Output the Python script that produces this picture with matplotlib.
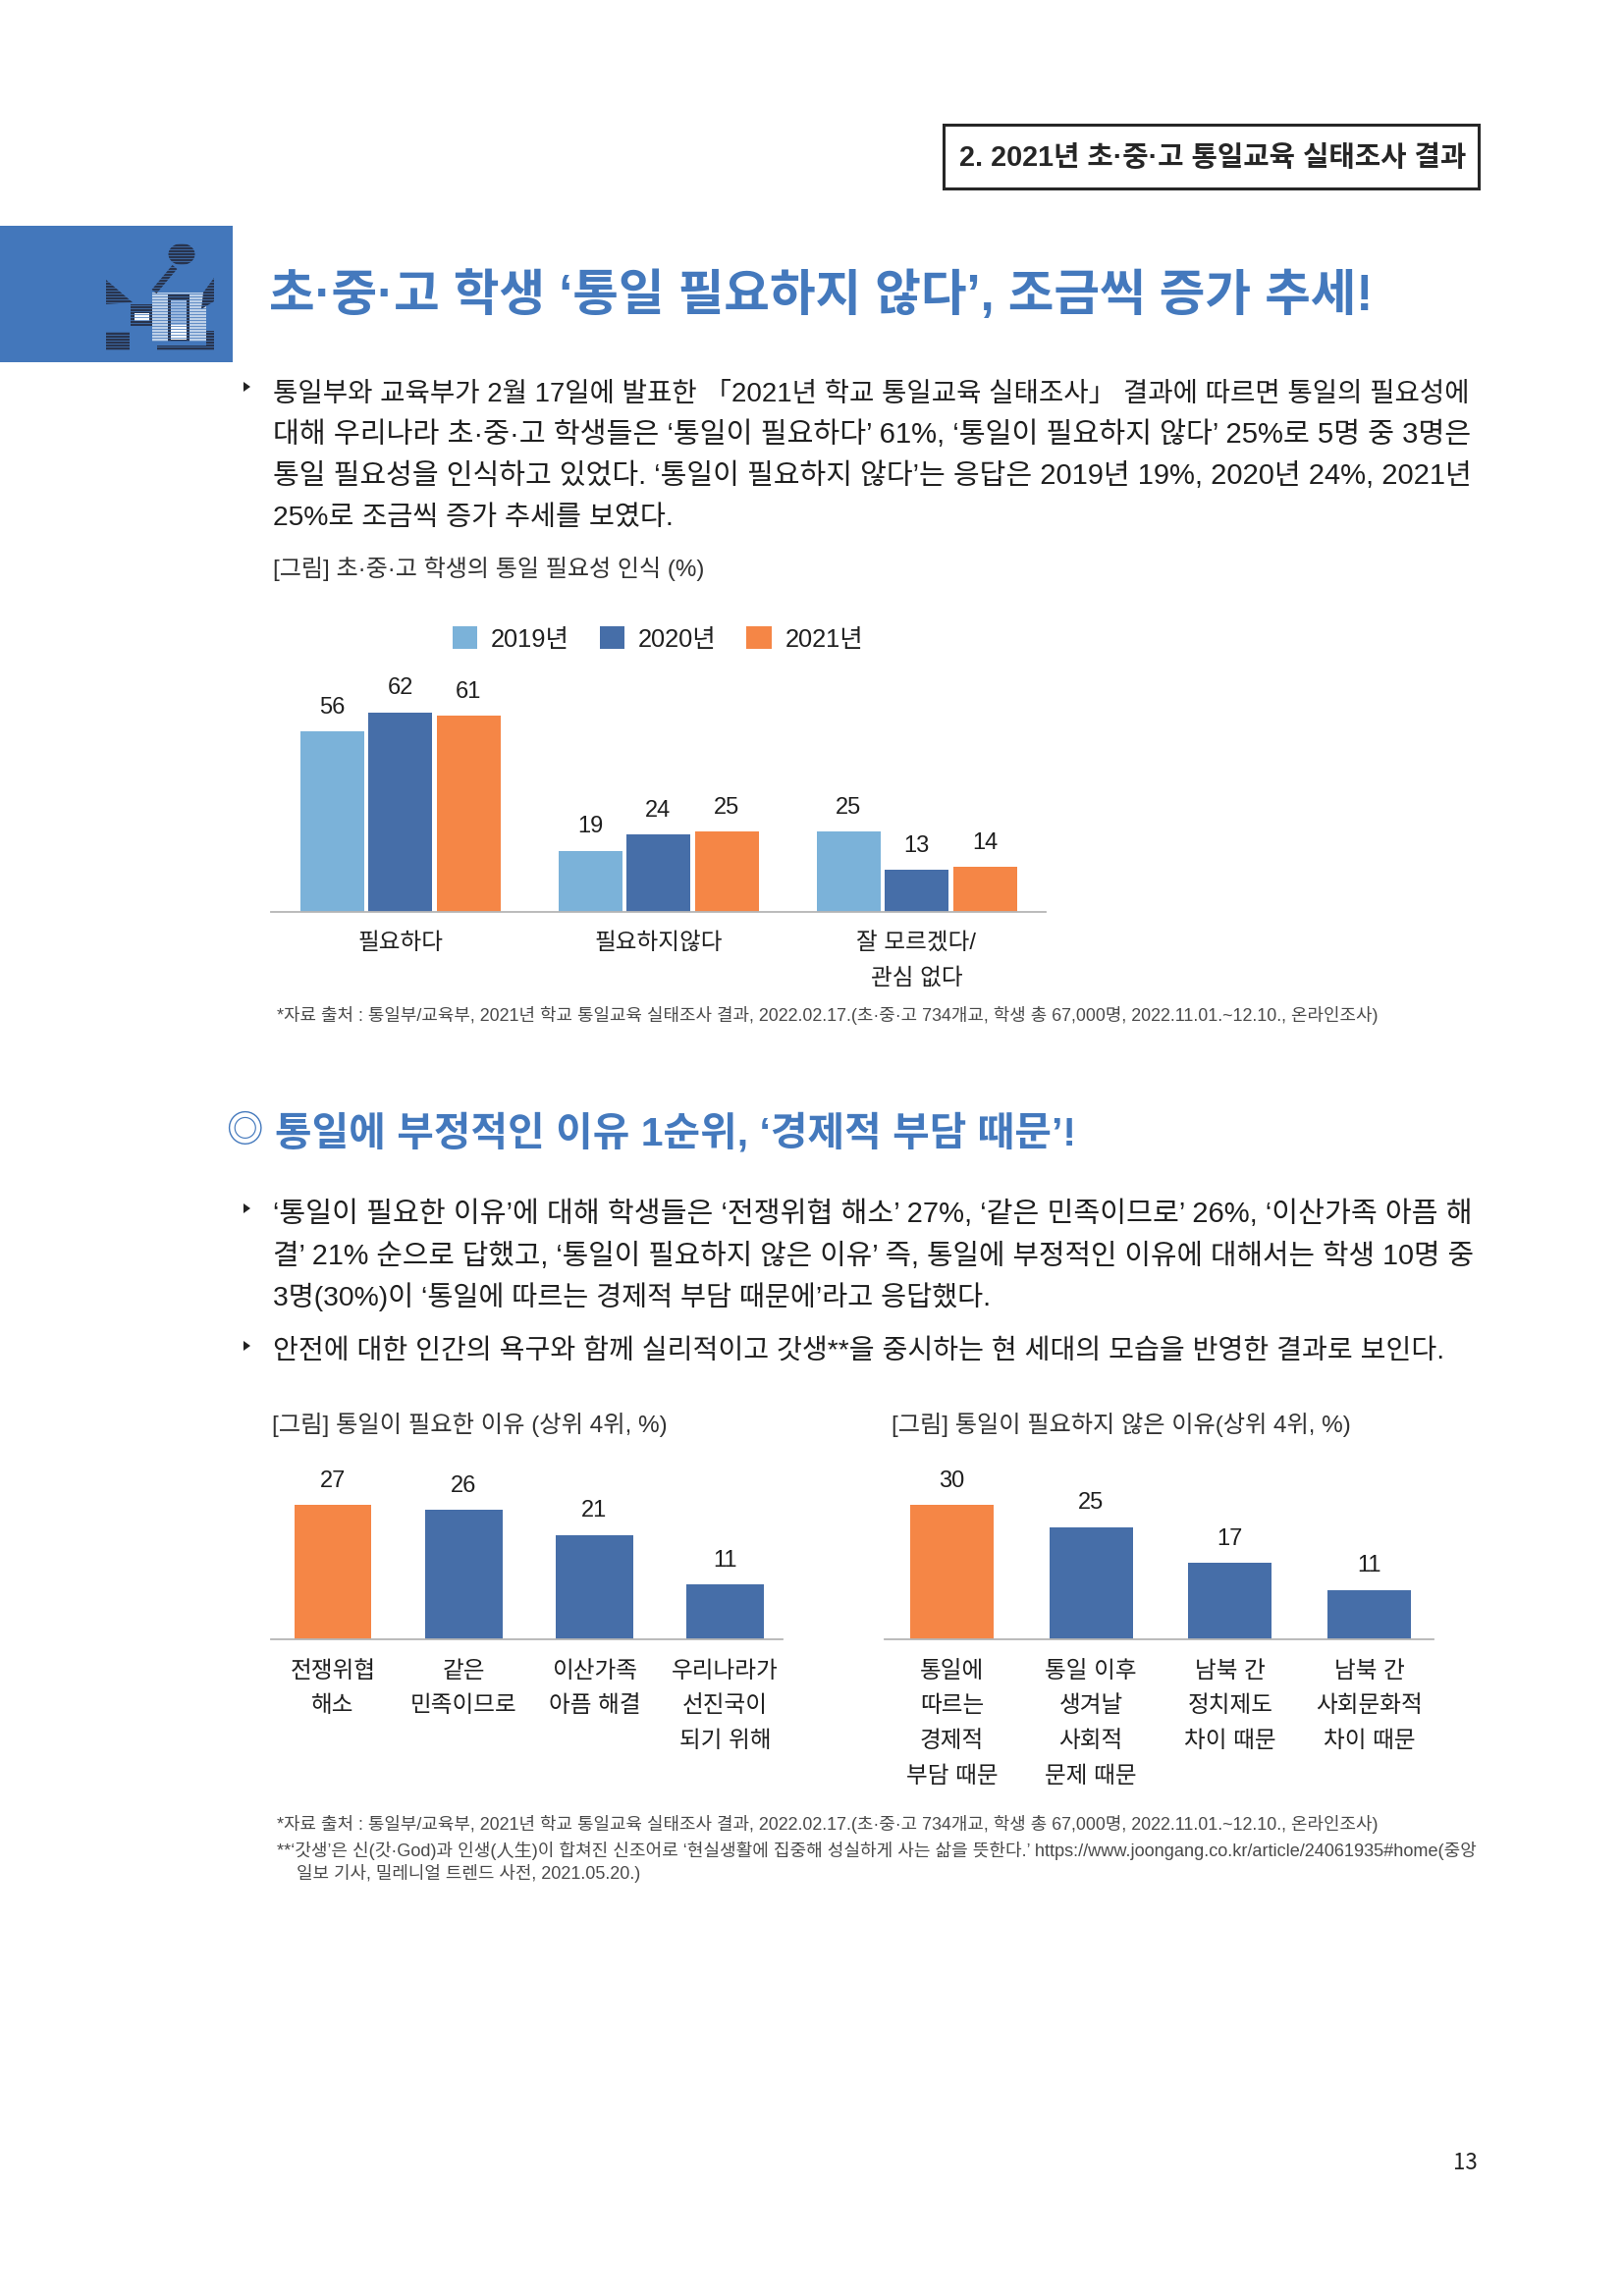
# -*- coding: utf-8 -*-
import matplotlib
matplotlib.use('Agg')
import matplotlib.pyplot as plt
from matplotlib.patches import Rectangle, Polygon, Ellipse
import numpy as np

W, H = 1653, 2339

# colours
LIGHT = '#7bb2d9'
BLUE = '#466ea8'
ORANGE = '#f58646'
TITLE = '#4479bd'
AXIS = '#b5b5b5'
TEXT = '#1f1f1f'
NOTE = '#4a4a4a'

# chart 1
years = ['2019년', '2020년', '2021년']
cats1 = ['필요하다', '필요하지않다', '잘 모르겠다/\n관심 없다']
v2019 = [56, 19, 25]
v2020 = [62, 24, 13]
v2021 = [61, 25, 14]

# chart 2
cats2 = ['전쟁위협\n해소', '같은\n민족이므로', '이산가족\n아픔 해결', '우리나라가\n선진국이\n되기 위해']
vals2 = [27, 26, 21, 11]

# chart 3
cats3 = ['통일에\n따르는\n경제적\n부담 때문', '통일 이후\n생겨날\n사회적\n문제 때문', '남북 간\n정치제도\n차이 때문', '남북 간\n사회문화적\n차이 때문']
vals3 = [30, 25, 17, 11]

header = '2. 2021년 초·중·고 통일교육 실태조사 결과'
title = '초·중·고 학생 ‘통일 필요하지 않다’, 조금씩 증가 추세!'
section = '통일에 부정적인 이유 1순위, ‘경제적 부담 때문’!'
body1 = ['통일부와 교육부가 2월 17일에 발표한 「2021년 학교 통일교육 실태조사」 결과에 따르면 통일의 필요성에',
         '대해 우리나라 초·중·고 학생들은 ‘통일이 필요하다’ 61%, ‘통일이 필요하지 않다’ 25%로 5명 중 3명은',
         '통일 필요성을 인식하고 있었다. ‘통일이 필요하지 않다’는 응답은 2019년 19%, 2020년 24%, 2021년',
         '25%로 조금씩 증가 추세를 보였다.']
body2 = ['‘통일이 필요한 이유’에 대해 학생들은 ‘전쟁위협 해소’ 27%, ‘같은 민족이므로’ 26%, ‘이산가족 아픔 해',
         '결’ 21% 순으로 답했고, ‘통일이 필요하지 않은 이유’ 즉, 통일에 부정적인 이유에 대해서는 학생 10명 중',
         '3명(30%)이 ‘통일에 따르는 경제적 부담 때문에’라고 응답했다.',
         '안전에 대한 인간의 욕구와 함께 실리적이고 갓생**을 중시하는 현 세대의 모습을 반영한 결과로 보인다.']
cap1 = '[그림] 초·중·고 학생의 통일 필요성 인식 (%)'
cap2 = '[그림] 통일이 필요한 이유 (상위 4위, %)'
cap3 = '[그림] 통일이 필요하지 않은 이유(상위 4위, %)'
source = '*자료 출처 : 통일부/교육부, 2021년 학교 통일교육 실태조사 결과, 2022.02.17.(초·중·고 734개교, 학생 총 67,000명, 2022.11.01.~12.10., 온라인조사)'
note1 = '**‘갓생’은 신(갓·God)과 인생(人生)이 합쳐진 신조어로 ‘현실생활에 집중해 성실하게 사는 삶을 뜻한다.’ https://www.joongang.co.kr/article/24061935#home(중앙'
note2 = '일보 기사, 밀레니얼 트렌드 사전, 2021.05.20.)'
page_no = '13'

KR = ['Noto Sans CJK KR', 'DejaVu Sans']
CHART = ['Liberation Sans', 'Noto Sans CJK KR', 'DejaVu Sans']
plt.rcParams['font.family'] = CHART

fig = plt.figure(figsize=(W / 100, H / 100), dpi=100, facecolor='white')
page = fig.add_axes([0, 0, 1, 1])
page.set_xlim(0, W)
page.set_ylim(H, 0)
page.axis('off')
renderer = fig.canvas.get_renderer()


def fit(x0, x1, y, s, fs=20, **kw):
    # shrink or grow the font until the line spans x0..x1
    kw.setdefault('color', TEXT)
    t = page.text(x0, y, s, fontsize=fs, ha='left', va='center', **kw)
    w = t.get_window_extent(renderer).width
    t.set_fontsize(fs * (x1 - x0) / w)
    return t


def chart_axes(x0, x1, top, bottom):
    ax = fig.add_axes([x0 / W, 1 - bottom / H, (x1 - x0) / W, (bottom - top) / H])
    ax.patch.set_alpha(0)
    for side in ['top', 'left', 'right']:
        ax.spines[side].set_visible(False)
    ax.spines['bottom'].set_color(AXIS)
    ax.spines['bottom'].set_linewidth(1.3)
    ax.set_yticks([])
    return ax


def bullet(y):
    page.add_patch(Polygon([(248, y - 5), (248, y + 5), (255, y)], color='#222222', lw=0))


def value_labels(ax, bars, values, size=17):
    for b, v in zip(bars, values):
        ax.annotate(str(v), (b.get_x() + b.get_width() / 2, v), xytext=(0, 17.5),
                    textcoords='offset points', ha='center', va='center',
                    fontsize=size, color=TEXT, family=CHART)


def set_cats(ax, ticks, labels, pad):
    ax.set_xticks(ticks)
    ax.set_xticklabels(labels, fontsize=17, color=TEXT, family=CHART,
                       linespacing=1.82, va='top')
    ax.tick_params(axis='x', length=0, pad=pad)


# header box
page.add_patch(Rectangle((961, 127), 545, 65, fill=False, ec='#262626', lw=2.2))
fit(977, 1493, 161, header, weight='bold', color='#262626')

# blue block with icon
page.add_patch(Rectangle((0, 230), 237, 139, color='#4377bb', lw=0))
DARK = '#27324a'
page.add_patch(Rectangle((155, 298), 55, 50, color='#c3d4ea', lw=0))
page.add_patch(Ellipse((185, 259), 27, 22, color=DARK, lw=0))
page.plot([178, 157], [272, 297], color=DARK, lw=4.5, solid_capstyle='butt')
page.add_patch(Polygon([(108, 285), (108, 310), (135, 308)], color=DARK, lw=0))
page.add_patch(Polygon([(218, 283), (218, 307), (205, 315), (207, 298)], color=DARK, lw=0))
page.add_patch(Rectangle((133, 310), 22, 22, color=DARK, lw=0))
page.add_patch(Rectangle((171, 300), 22, 48, color=DARK, lw=0))
page.add_patch(Rectangle((108, 338), 24, 19, color=DARK, lw=0))
page.add_patch(Rectangle((160, 352), 58, 5, color=DARK, lw=0))
page.add_patch(Rectangle((210, 337), 8, 16, color=DARK, lw=0))
page.hlines(np.arange(248, 358, 3), 106, 220, color='#4377bb', lw=0.8, alpha=0.75)
page.add_patch(Rectangle((137, 319), 15, 8, color='white', lw=0))
page.add_patch(Rectangle((174, 306), 16, 25, color='#9fbbe0', lw=0))
page.add_patch(Rectangle((174, 331), 16, 15, color='white', lw=0))

fit(274, 1398, 302, title, fs=38, weight='bold', color=TITLE)

# first text block
for y, s, x1 in zip([402, 443, 485, 528], body1, [1495, 1499, 1498, 686]):
    fit(278, x1, y, s, weight='light')
bullet(394)
fit(278, 717, 579, cap1, weight='light', color='#333333')

# chart 1: axes runs from the baseline upwards, 3.28 px per percent
ax1 = chart_axes(276, 1065, 680, 929)
ax1.set_xlim(-0.5, 2.5)
ax1.set_ylim(0, 249 / 3.28)
x = np.arange(len(cats1))
step, width = 69.5 / 263, 65 / 263
for i, (vals, col, lab) in enumerate(zip([v2019, v2020, v2021], [LIGHT, BLUE, ORANGE], years)):
    bars = ax1.bar(x + (i - 1) * step, vals, width, color=col, label=lab)
    value_labels(ax1, bars, vals)
set_cats(ax1, x, cats1, 15)
leg = ax1.legend(loc='center', bbox_to_anchor=(670, 651), bbox_transform=page.transData,
                 ncol=3, frameon=False, handlelength=1.0, handleheight=1.0,
                 handletextpad=0.55, columnspacing=1.2, prop={'family': CHART, 'size': 18.3})
for t in leg.get_texts():
    t.set_color(TEXT)
fit(282, 1404, 1034, source, fs=13, weight='light', color=NOTE)

# section heading
page.text(249, 1152, '◎', fontsize=27, ha='center', va='center', color=TITLE, family=KR)
fit(280, 1096, 1154, section, fs=34, weight='bold', color=TITLE)

for y, s, x1 in zip([1237, 1280, 1321, 1377], body2, [1497, 1500, 1009, 1467]):
    fit(278, x1, y, s, weight='light')
bullet(1231)
bullet(1371)

fit(277, 680, 1451, cap2, weight='light', color='#333333')
fit(908, 1376, 1451, cap3, weight='light', color='#333333')

# chart 2
ax2 = chart_axes(276, 797, 1480, 1670)
ax2.set_xlim((276 - 339) / 133.2, (797 - 339) / 133.2)
ax2.set_ylim(0, 190 / 5.07)
x2 = np.arange(len(cats2))
bars = ax2.bar(x2, vals2, 0.593, color=[ORANGE, BLUE, BLUE, BLUE])
value_labels(ax2, bars, vals2)
set_cats(ax2, x2, cats2, 15.5)

# chart 3
ax3 = chart_axes(901, 1460, 1480, 1670)
ax3.set_xlim((901 - 969.5) / 141.7, (1460 - 969.5) / 141.7)
ax3.set_ylim(0, 190 / 4.57)
x3 = np.arange(len(cats3))
bars = ax3.bar(x3, vals3, 0.6, color=[ORANGE, BLUE, BLUE, BLUE])
value_labels(ax3, bars, vals3)
set_cats(ax3, x3, cats3, 15.5)

# footnotes
fit(282, 1404, 1859, source, fs=13, weight='light', color=NOTE)
fit(282, 1504, 1885, note1, fs=13, weight='light', color=NOTE)
fit(302, 652, 1909, note2, fs=13, weight='light', color=NOTE)

page.text(1492, 2204, page_no, fontsize=16, ha='center', va='center', color='#222222', weight='light', family=KR)

fig.savefig('out.png', dpi=100)
